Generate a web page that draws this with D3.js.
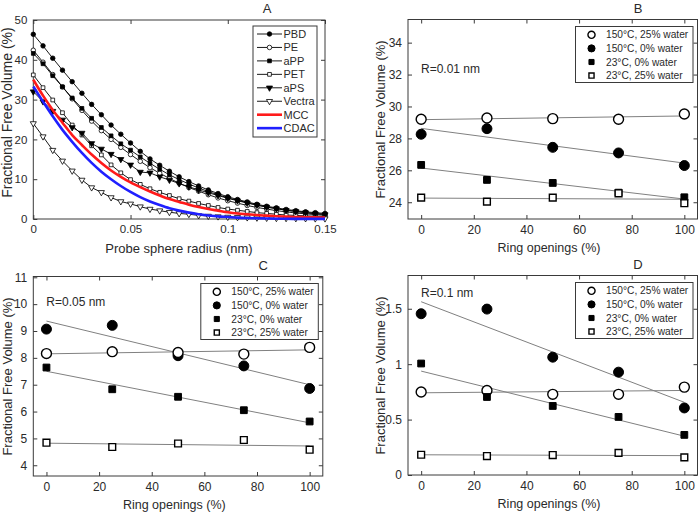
<!DOCTYPE html>
<html><head><meta charset="utf-8">
<script src="https://cdn.jsdelivr.net/npm/d3@7"></script>
<style>
body{margin:0;background:#fff;}
svg{font-family:"Liberation Sans",Arial,sans-serif;}
</style></head>
<body><svg id="c" width="700" height="512"></svg>
<script>
// ---------- Panel A data ----------
const radius = d3.range(31).map(i => +(i * 0.005).toFixed(3));
const PBD   = [46.4,43.5,40.4,37.4,34.5,31.6,28.8,26.2,23.6,21.3,19.1,17.0,15.1,13.5,12.0,10.6,9.4,8.3,7.3,6.4,5.6,4.9,4.3,3.7,3.2,2.8,2.4,2.1,1.8,1.6,1.4];
const PE    = [42.4,39.4,36.3,33.2,30.2,27.3,24.6,22.2,20.0,18.0,16.2,14.5,12.9,11.5,10.2,9.0,7.9,7.0,6.1,5.3,4.6,4.0,3.4,2.9,2.5,2.1,1.8,1.5,1.3,1.1,0.9];
const aPP   = [41.6,39.0,36.0,33.2,30.4,27.8,25.3,23.0,20.9,18.9,17.3,15.6,14.0,12.5,11.1,9.9,8.8,7.8,6.9,6.1,5.3,4.7,4.1,3.5,3.0,2.6,2.2,1.9,1.6,1.4,1.2];
const PET   = [36.2,33.0,29.9,26.7,23.6,21.1,18.4,16.1,13.6,11.6,9.9,8.7,7.6,6.7,5.9,5.1,4.5,3.9,3.4,2.9,2.5,2.2,1.9,1.6,1.4,1.2,1.0,0.9,0.8,0.7,0.6];
const aPS   = [32.0,29.5,27.1,24.9,23.0,21.6,19.0,17.6,16.3,15.0,13.6,11.8,11.6,10.6,9.8,8.9,8.1,7.3,6.6,5.9,5.2,4.6,4.0,3.5,3.0,2.6,2.2,1.9,1.6,1.3,1.1];
const Vectra= [24.0,20.7,17.3,14.6,12.1,9.8,7.9,6.7,5.4,4.4,3.8,3.1,2.5,2.1,1.7,1.4,1.2,0.9,0.75,0.6,0.5,0.42,0.36,0.3,0.25,0.2,0.18,0.15,0.13,0.1,0.1];
const MCC   = [35.0,31.0,27.4,24.2,21.1,18.6,16.2,14.1,12.2,10.6,9.2,8.0,6.9,5.9,5.0,4.3,3.6,3.0,2.5,2.1,1.7,1.4,1.2,1.0,0.85,0.7,0.6,0.5,0.45,0.4,0.35];
const CDAC  = [33.3,29.5,25.8,22.4,19.4,16.6,14.1,11.9,10.0,8.3,6.8,5.5,4.4,3.5,2.7,2.1,1.6,1.2,0.9,0.65,0.5,0.35,0.25,0.18,0.12,0.08,0.05,0.04,0.03,0.02,0.02];
const seriesA = ["PBD","PE","aPP","PET","aPS","Vectra","MCC","CDAC"];
const ticksAx = [0,0.05,0.1,0.15];
const ticksAy = [0,10,20,30,40,50];

// ---------- Panels B/C/D data ----------
const ringOpen = [0,25,50,75,100];
const condLabels = ["150°C, 25% water","150°C, 0% water","23°C, 0% water","23°C, 25% water"];
const B_150w = [29.2,29.28,29.24,29.2,29.53];
const B_150d = [28.26,28.61,27.44,27.09,26.3];
const B_23d  = [26.34,25.4,25.21,24.6,24.31];
const B_23w  = [24.29,24.04,24.29,24.56,23.94];
const C_150w = [8.16,8.23,8.2,8.14,8.39];
const C_150d = [9.07,9.21,8.08,7.7,6.86];
const C_23d  = [7.64,6.83,6.55,6.05,5.63];
const C_23w  = [4.84,4.68,4.81,4.94,4.58];
const D_150w = [0.749,0.763,0.728,0.728,0.793];
const D_150d = [1.455,1.497,1.063,0.928,0.605];
const D_23d  = [1.006,0.704,0.623,0.524,0.362];
const D_23w  = [0.183,0.171,0.18,0.2,0.159];
const ticksRing = [0,20,40,60,80,100];
const ticksBy = [24,26,28,30,32,34];
const ticksCy = [4,5,6,7,8,9,10,11];
const ticksDy = [0,0.5,1,1.5];

const svg = d3.select("#c");
const AX = "#3a3a3a", TXT = "#2a2a2a";

function frame(g, x, y, tx, ty, fmtX, fmtY, fs) {
  const [x0,x1] = x.range(), [y0,y1] = y.range();
  g.append("g").attr("transform",`translate(0,${y0})`)
    .call(d3.axisBottom(x).tickValues(tx).tickFormat(fmtX).tickSizeInner(-4).tickSizeOuter(0).tickPadding(6));
  g.append("g").attr("transform",`translate(0,${y1})`)
    .call(d3.axisTop(x).tickValues(tx).tickFormat("").tickSizeInner(-4).tickSizeOuter(0));
  g.append("g").attr("transform",`translate(${x0},0)`)
    .call(d3.axisLeft(y).tickValues(ty).tickFormat(fmtY).tickSizeInner(-4).tickSizeOuter(0).tickPadding(6));
  g.append("g").attr("transform",`translate(${x1},0)`)
    .call(d3.axisRight(y).tickValues(ty).tickFormat("").tickSizeInner(-4).tickSizeOuter(0));
  g.selectAll(".domain").remove();
  g.selectAll(".tick line").attr("stroke",AX);
  g.selectAll(".tick text").attr("fill",TXT).style("font-size",fs+"px");
  g.append("rect").attr("x",x0).attr("y",y1).attr("width",x1-x0).attr("height",y0-y1)
    .attr("fill","none").attr("stroke",AX).attr("stroke-width",1);
}

function marker(sel, type, size, fill) {
  const sym = {circle:d3.symbolCircle, square:d3.symbolSquare, tri:d3.symbolTriangle}[type];
  sel.attr("d", d3.symbol(sym, size)())
     .attr("fill", fill).attr("stroke","#000").attr("stroke-width",1);
}

// ---------- Panel A ----------
(function(){
  const g = svg.append("g");
  const x = d3.scaleLinear([0,0.15],[33.3,325]);
  const y = d3.scaleLinear([0,50],[219,20]);
  frame(g,x,y,ticksAx,ticksAy,d=>String(d),d=>String(d),11.5);
  const data = {PBD,PE,aPP,PET,aPS,Vectra,MCC,CDAC};
  const style = {
    PBD:{m:"circle",f:"#000"}, PE:{m:"circle",f:"#fff"}, aPP:{m:"square",f:"#000"},
    PET:{m:"square",f:"#fff"}, aPS:{m:"tri",f:"#000"}, Vectra:{m:"tri",f:"#fff"},
    MCC:{c:"#ff1a1a"}, CDAC:{c:"#1f1fff"}
  };
  const msize = {circle:16, square:14, tri:16};
  seriesA.forEach(name=>{
    const vals = data[name], st = style[name];
    const pts = radius.map((r,i)=>[r,vals[i]]);
    if (st.c) {
      g.append("path").attr("d", d3.line().x(d=>x(d[0])).y(d=>y(d[1])).curve(d3.curveMonotoneX)(pts))
        .attr("fill","none").attr("stroke",st.c).attr("stroke-width",2.6);
    } else {
      g.append("path").attr("d", d3.line().x(d=>x(d[0])).y(d=>y(d[1]))(pts))
        .attr("fill","none").attr("stroke","#000").attr("stroke-width",0.9);
      g.selectAll(null).data(pts).join("path")
        .attr("transform",d=>`translate(${x(d[0])},${y(d[1])})${st.m==="tri"?" rotate(180)":""}`)
        .call(s=>marker(s,st.m,msize[st.m],st.f)).attr("stroke-width",0.8);
    }
  });
  // legend
  const lg = g.append("g");
  lg.append("rect").attr("x",253).attr("y",26).attr("width",64).attr("height",111)
    .attr("fill","#fff").attr("stroke",AX);
  seriesA.forEach((name,i)=>{
    const yy = 34 + i*13.45, st = style[name];
    if (st.c) {
      lg.append("line").attr("x1",257).attr("x2",282).attr("y1",yy).attr("y2",yy)
        .attr("stroke",st.c).attr("stroke-width",2.6);
    } else {
      lg.append("line").attr("x1",257).attr("x2",282).attr("y1",yy).attr("y2",yy)
        .attr("stroke","#000").attr("stroke-width",0.9);
      lg.append("path").attr("transform",`translate(269.5,${yy})${st.m==="tri"?" rotate(180)":""}`)
        .call(s=>marker(s,st.m,msize[st.m],st.f)).attr("stroke-width",0.8);
    }
    lg.append("text").attr("x",283.5).attr("y",yy+4).text(name)
      .attr("fill",TXT).style("font-size","11px");
  });
  g.append("text").attr("x",179).attr("y",253).attr("text-anchor","middle")
    .attr("fill",TXT).style("font-size","13px").text("Probe sphere radius (nm)");
  g.append("text").attr("transform","translate(12,112.5) rotate(-90)").attr("text-anchor","middle")
    .attr("fill",TXT).style("font-size","14px").text("Fractional Free Volume (%)");
  g.append("text").attr("x",267).attr("y",13).attr("text-anchor","middle")
    .attr("fill",TXT).style("font-size","13px").text("A");
})();

// ---------- Panels B, C, D ----------
function scatterPanel(o) {
  const g = svg.append("g");
  const x = d3.scaleLinear([-5,105],[o.left,o.left+289.5]);
  const y = d3.scaleLinear(o.ydom,[o.top+199.5,o.top]);
  frame(g,x,y,ticksRing,o.ticks,d=>String(d),o.fmt,12);
  const sets = o.data;
  const mstyle = [{m:"circle",f:"#fff"},{m:"circle",f:"#000"},{m:"square",f:"#000"},{m:"square",f:"#fff"}];
  const msz = {circle:78, square:46};
  // regression lines
  sets.forEach(vals=>{
    const mx = d3.mean(ringOpen), my = d3.mean(vals);
    const slope = d3.sum(ringOpen.map((r,i)=>(r-mx)*(vals[i]-my))) / d3.sum(ringOpen.map(r=>(r-mx)**2));
    const a = my - slope*mx;
    g.append("line").attr("x1",x(0)).attr("x2",x(100)).attr("y1",y(a)).attr("y2",y(a+slope*100))
      .attr("stroke","#808080").attr("stroke-width",1);
  });
  // markers: draw filled first, open squares last
  [1,0,2,3].forEach(k=>{
    const vals = sets[k], st = mstyle[k];
    g.selectAll(null).data(ringOpen.map((r,i)=>[r,vals[i]])).join("path")
      .attr("transform",d=>`translate(${x(d[0])},${y(d[1])})`)
      .call(s=>marker(s,st.m,msz[st.m],st.f)).attr("stroke-width",st.f==="#fff"?1.4:1);
  });
  // legend
  const lx = o.left+167.5, ly = o.top+7;
  const lg = g.append("g");
  lg.append("rect").attr("x",lx).attr("y",ly).attr("width",117.5).attr("height",56)
    .attr("fill","#fff").attr("stroke",AX);
  condLabels.forEach((lab,i)=>{
    const yy = ly + 8.3 + i*13.6, st = mstyle[i];
    lg.append("path").attr("transform",`translate(${lx+16},${yy})`)
      .call(s=>marker(s,st.m,st.m==="circle"?40:26,st.f)).attr("stroke-width",st.f==="#fff"?1.4:1);
    lg.append("text").attr("x",lx+30.5).attr("y",yy+3.6).text(lab)
      .attr("fill",TXT).style("font-size","10.2px");
  });
  g.append("text").attr("x",o.left+13).attr("y",o.top+o.annY).text(o.ann)
    .attr("fill",TXT).style("font-size","12px");
  g.append("text").attr("x",o.left+141).attr("y",o.top+199.5+33).attr("text-anchor","middle")
    .attr("fill",TXT).style("font-size","12.5px").text("Ring openings (%)");
  g.append("text").attr("transform",`translate(${o.left-o.ylabOff},${o.top+100}) rotate(-90)`).attr("text-anchor","middle")
    .attr("fill",TXT).style("font-size","13px").text("Fractional Free Volume (%)");
  g.append("text").attr("x",o.left+230).attr("y",o.top-7).attr("text-anchor","middle")
    .attr("fill",TXT).style("font-size","13px").text(o.title);
}

scatterPanel({left:408,top:19.5,ydom:[22.95,35.45],ticks:ticksBy,fmt:d=>String(d),
  data:[B_150w,B_150d,B_23d,B_23w],ann:"R=0.01 nm",annY:53,title:"B",ylabOff:23});
scatterPanel({left:33.3,top:276.5,ydom:[3.6,11.03],ticks:ticksCy,fmt:d=>String(d),
  data:[C_150w,C_150d,C_23d,C_23w],ann:"R=0.05 nm",annY:29,title:"C",ylabOff:21.3});
scatterPanel({left:408,top:275.5,ydom:[0,1.8],ticks:ticksDy,fmt:d=>String(d),
  data:[D_150w,D_150d,D_23d,D_23w],ann:"R=0.1 nm",annY:21,title:"D",ylabOff:23});
</script></body></html>
